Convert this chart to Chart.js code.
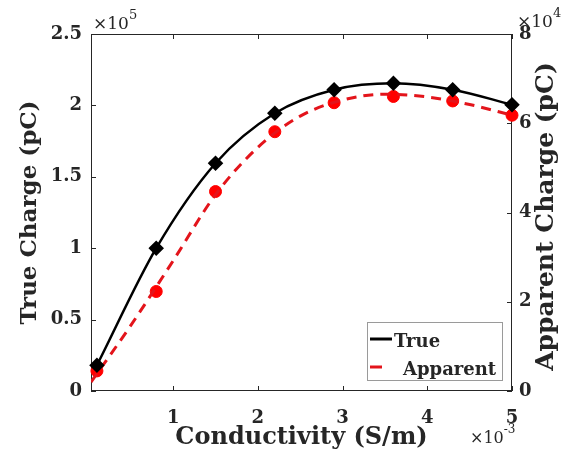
<!DOCTYPE html>
<html>
<head>
<meta charset="utf-8">
<script src="https://cdn.jsdelivr.net/npm/chart.js@4.4.0/dist/chart.umd.min.js"></script>
<style>
html,body{margin:0;padding:0;background:#fff;}
#wrap{width:579px;height:470px;}
</style>
</head>
<body>
<div id="wrap"><canvas id="chargeChart" width="579" height="470"></canvas></div>
<script>
// conductivity in units of 1e-3 S/m
const conductivity = [0.1, 0.8, 1.5, 2.2, 2.9, 3.6, 4.3, 5.0];
// true charge, pC (left axis)
const trueCharge = [18000, 100000, 159500, 194500, 211000, 215500, 211000, 200500];
// apparent charge, pC (right axis)
const apparentCharge = [4500, 22300, 44700, 58100, 64600, 66000, 65000, 61800];
// smooth fit drawn through the apparent charge
const apparentFitX = [0.03, 0.5, 1.0, 1.5, 2.0, 2.5, 3.0, 3.5, 4.0, 4.5, 5.0];
const apparentFitY = [2000, 14700, 29200, 44000, 54600, 61600, 65200, 66500, 65900, 64200, 61800];

const xTicks = [1, 2, 3, 4, 5];
const leftTicks = [0, 50000, 100000, 150000, 200000, 250000];
const rightTicks = [0, 20000, 40000, 60000, 80000];

const AXIS_COLOR = '#262626';
Chart.defaults.font.family = '"DejaVu Serif"';
Chart.defaults.color = AXIS_COLOR;

function pairs(xs, ys){
    return xs.map((x, i) => ({x: x, y: ys[i]}));
}

function fixTicks(list){
    return function(scale){
        scale.ticks = list.map(v => ({value: v}));
    };
}

// box, inward tick marks, exponent notes, right label and legend
const axesFrame = {
    id: 'axesFrame',
    beforeDatasetsDraw(chart){
        const {ctx, chartArea: a, scales} = chart;
        const len = 5;
        ctx.save();
        ctx.strokeStyle = AXIS_COLOR;
        ctx.lineWidth = 1;
        ctx.strokeRect(Math.round(a.left) + 0.5, Math.round(a.top) + 0.5,
                       Math.round(a.width) - 1, Math.round(a.height) - 1);
        ctx.beginPath();
        scales.x.ticks.forEach(t => {
            const px = Math.round(scales.x.getPixelForValue(t.value)) + 0.5;
            ctx.moveTo(px, a.bottom); ctx.lineTo(px, a.bottom - len);
            ctx.moveTo(px, a.top); ctx.lineTo(px, a.top + len);
        });
        scales.yTrue.ticks.forEach(t => {
            const py = Math.round(scales.yTrue.getPixelForValue(t.value)) + 0.5;
            ctx.moveTo(a.left, py); ctx.lineTo(a.left + len, py);
        });
        scales.yApp.ticks.forEach(t => {
            const py = Math.round(scales.yApp.getPixelForValue(t.value)) + 0.5;
            ctx.moveTo(a.right, py); ctx.lineTo(a.right - len, py);
        });
        ctx.stroke();
        ctx.restore();
    },
    afterDraw(chart){
        const {ctx, chartArea: a} = chart;
        ctx.save();
        ctx.fillStyle = AXIS_COLOR;

        function power(x, y, base, exp, size){
            ctx.font = size + 'px "DejaVu Serif"';
            ctx.textAlign = 'left';
            ctx.textBaseline = 'alphabetic';
            ctx.fillText('\u00d7' + base, x, y);
            const w = ctx.measureText('\u00d7' + base).width;
            ctx.font = Math.round(size * 0.75) + 'px "DejaVu Serif"';
            ctx.fillText(exp, x + w, y - size * 0.6);
        }
        power(a.left + 2, a.top - 5, '10', '5', 17);
        power(a.right + 5, a.top - 7, '10', '4', 17);
        power(a.right - 42, a.bottom + 52, '10', '-3', 16);

        // right axis label, reading upwards like the left one
        ctx.save();
        ctx.translate(546, (a.top + a.bottom) / 2 + 4);
        ctx.rotate(-Math.PI / 2);
        ctx.font = 'bold 25px "DejaVu Serif"';
        ctx.textAlign = 'center';
        ctx.textBaseline = 'middle';
        ctx.fillText('Apparent Charge (pC)', 0, 0);
        ctx.restore();

        // legend box in the lower right corner
        const bx = a.right - 145, by = a.bottom - 69, bw = 135, bh = 58;
        ctx.fillStyle = '#fff';
        ctx.fillRect(bx, by, bw, bh);
        ctx.strokeStyle = '#9a9a9a';
        ctx.lineWidth = 1;
        ctx.strokeRect(bx + 0.5, by + 0.5, bw, bh);

        const entries = chart.data.datasets.filter(d => d.inLegend);
        ctx.font = 'bold 18px "DejaVu Serif"';
        ctx.textBaseline = 'alphabetic';
        entries.forEach((d, i) => {
            const ly = by + 17 + i * 28;
            ctx.strokeStyle = d.borderColor;
            ctx.lineWidth = 3;
            ctx.setLineDash([]);
            ctx.beginPath();
            ctx.moveTo(bx + 3, ly);
            ctx.lineTo(bx + (d.borderDash ? 15 : 25), ly);
            ctx.stroke();
            ctx.fillStyle = AXIS_COLOR;
            ctx.fillText(d.label, bx + (d.borderDash ? 36 : 27), ly + 8);
        });
        ctx.restore();
    }
};

const ctx = document.getElementById('chargeChart').getContext('2d');

new Chart(ctx, {
    type: 'line',
    data: {
        datasets: [{
            label: 'True',
            inLegend: true,
            data: pairs(conductivity, trueCharge),
            yAxisID: 'yTrue',
            borderColor: '#000000',
            borderWidth: 2.5,
            cubicInterpolationMode: 'monotone',
            pointStyle: 'rectRot',
            pointRadius: 6,
            pointBackgroundColor: '#000000',
            pointBorderColor: '#000000',
            clip: false
        },{
            label: 'Apparent',
            inLegend: true,
            data: pairs(apparentFitX, apparentFitY),
            yAxisID: 'yApp',
            borderColor: '#e3141b',
            borderWidth: 3,
            borderDash: [10, 7],
            cubicInterpolationMode: 'monotone',
            pointRadius: 0
        },{
            label: 'Apparent points',
            data: pairs(conductivity, apparentCharge),
            yAxisID: 'yApp',
            showLine: false,
            pointStyle: 'circle',
            pointRadius: 6,
            pointBackgroundColor: '#ff0000',
            pointBorderColor: '#ff0000',
            clip: false
        }]
    },
    options: {
        responsive: false,
        animation: false,
        layout: { padding: { top: 34, left: 0, right: 0, bottom: 0 } },
        plugins: {
            legend: { display: false },
            tooltip: { enabled: false }
        },
        scales: {
            x: {
                type: 'linear',
                min: 0.03,
                max: 5,
                afterBuildTicks: fixTicks(xTicks),
                afterFit: s => { s.height = 79; },
                grid: { display: false, drawTicks: false },
                border: { display: false },
                ticks: {
                    autoSkip: false,
                    maxRotation: 0,
                    padding: 17,
                    font: { size: 18, weight: 'bold' },
                    callback: v => String(v)
                },
                title: {
                    display: true,
                    text: 'Conductivity (S/m)',
                    font: { size: 24, weight: 'bold' },
                    padding: { top: 0, bottom: 18 }
                }
            },
            yTrue: {
                type: 'linear',
                position: 'left',
                min: 0,
                max: 250000,
                afterBuildTicks: fixTicks(leftTicks),
                afterFit: s => { s.width = 91; },
                grid: { display: false, drawTicks: false },
                border: { display: false },
                ticks: {
                    padding: 9,
                    font: { size: 18, weight: 'bold' },
                    callback: v => String(v / 100000)
                },
                title: {
                    display: true,
                    text: 'True Charge (pC)',
                    font: { size: 23, weight: 'bold' },
                    padding: { top: 16, bottom: 0 }
                }
            },
            yApp: {
                type: 'linear',
                position: 'right',
                min: 0,
                max: 80000,
                afterBuildTicks: fixTicks(rightTicks),
                afterFit: s => { s.width = 67; },
                grid: { display: false, drawTicks: false },
                border: { display: false },
                ticks: {
                    padding: 7,
                    font: { size: 18, weight: 'bold' },
                    callback: v => String(v / 10000)
                }
            }
        }
    },
    plugins: [axesFrame]
});
</script>
</body>
</html>
